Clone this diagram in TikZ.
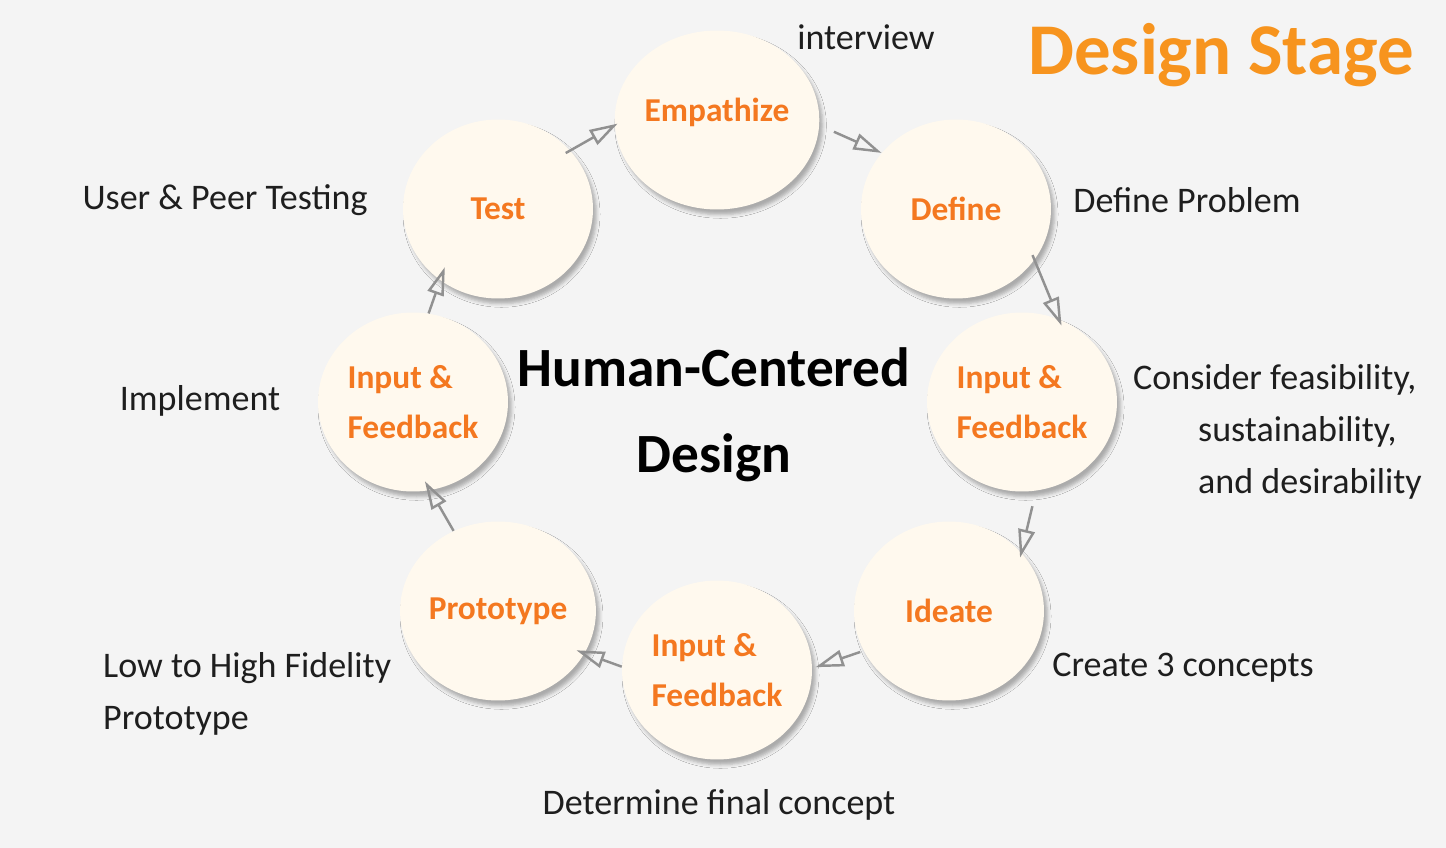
\documentclass[tikz,border=0pt]{standalone}
\usepackage{fontspec}
\setmainfont{Carlito}
\usetikzlibrary{shapes.geometric,arrows.meta,shadows.blur}
\definecolor{bgpaper}{RGB}{244,244,244}
\definecolor{cream}{RGB}{255,249,238}
\definecolor{stageorange}{RGB}{244,120,32}
\definecolor{titleorange}{RGB}{247,148,30}
\definecolor{arrowgray}{RGB}{145,145,145}
\definecolor{inkblack}{RGB}{30,30,30}

\begin{document}
\begin{tikzpicture}[
    x=0.02cm, y=-0.02cm,
    stage/.style={ellipse, fill=cream, minimum width=3.8cm, minimum height=3.58cm, inner sep=0pt, align=left, text=stageorange, font=\fontsize{19}{28.5}\selectfont\bfseries, blur shadow={shadow xshift=2pt, shadow yshift=-3pt, shadow blur radius=2pt, shadow opacity=30}},
    note/.style={text=inkblack, font=\fontsize{20.5}{29.5}\selectfont},
    arr/.style={-{Triangle[open, length=16pt, width=9.5pt]}, line width=1.4pt, draw=arrowgray},
]
\fill[bgpaper] (0,0) rectangle (1446,848);
\useasboundingbox (0,0) rectangle (1446,848);
% stages of the cycle
\node[stage] (emp) at (717,120) {\raisebox{12pt}{Empathize}};
\node[stage] (def) at (956,209) {Define};
\node[stage] (ifr) at (1022,402) {Input \&\\Feedback};
\node[stage] (ide) at (949,611) {Ideate};
\node[stage] (ifb) at (717,670) {Input \&\\Feedback};
\node[stage] (pro) at (498,611) {Prototype};
\node[stage] (ifl) at (413,402) {Input \&\\Feedback};
\node[stage] (tst) at (498,209) {Test};
% centre title
\node[text=black, font=\fontsize{31.5}{49}\selectfont\bfseries, align=center] (hcd) at (714,415) {Human-Centered\\Design};
\node[text=titleorange, font=\fontsize{41.5}{48}\selectfont\bfseries] (title) at (1221,55) {Design Stage};
% notes
\node[note] (n-emp) at (866,37) {interview};
\node[note] (n-def) at (1187,200) {Define Problem};
\node[note, align=left, anchor=west] (n-ifr) at (1127,432) {Consider feasibility,\\\hspace*{37pt}sustainability,\\\hspace*{37pt}and desirability};
\node[note] (n-ide) at (1183,668) {Create 3 concepts};
\node[note] (n-ifb) at (719,805) {Determine final concept};
\node[note, align=left, anchor=west] (n-pro) at (97,694) {Low to High Fidelity\\Prototype};
\node[note] (n-ifl) at (200,401) {Implement};
\node[note] (n-tst) at (225,200) {User \& Peer Testing};
% arrows
\draw[arr, shorten <=-3pt, shorten >=-2pt] (tst.39) -- (emp.183);
\draw[arr, shorten <=9pt] (emp.357) -- (def.143);
\draw[arr, shorten <=-3pt, shorten >=-4pt] (def.327) -- (ifr.66);
\draw[arr, shorten <=9pt, shorten >=-3pt] (ifr.279) -- (ide.39);
\draw[arr, shorten <=2pt, shorten >=2pt] (ide.205) -- (ifb.1);
\draw[arr, shorten >=-5pt] (ifb.178) -- (pro.334);
\draw[arr, shorten >=-6pt] (pro.119) -- (ifl.281);
\draw[arr, shorten >=-8pt] (ifl.80) -- (tst.231);
\end{tikzpicture}
\end{document}
